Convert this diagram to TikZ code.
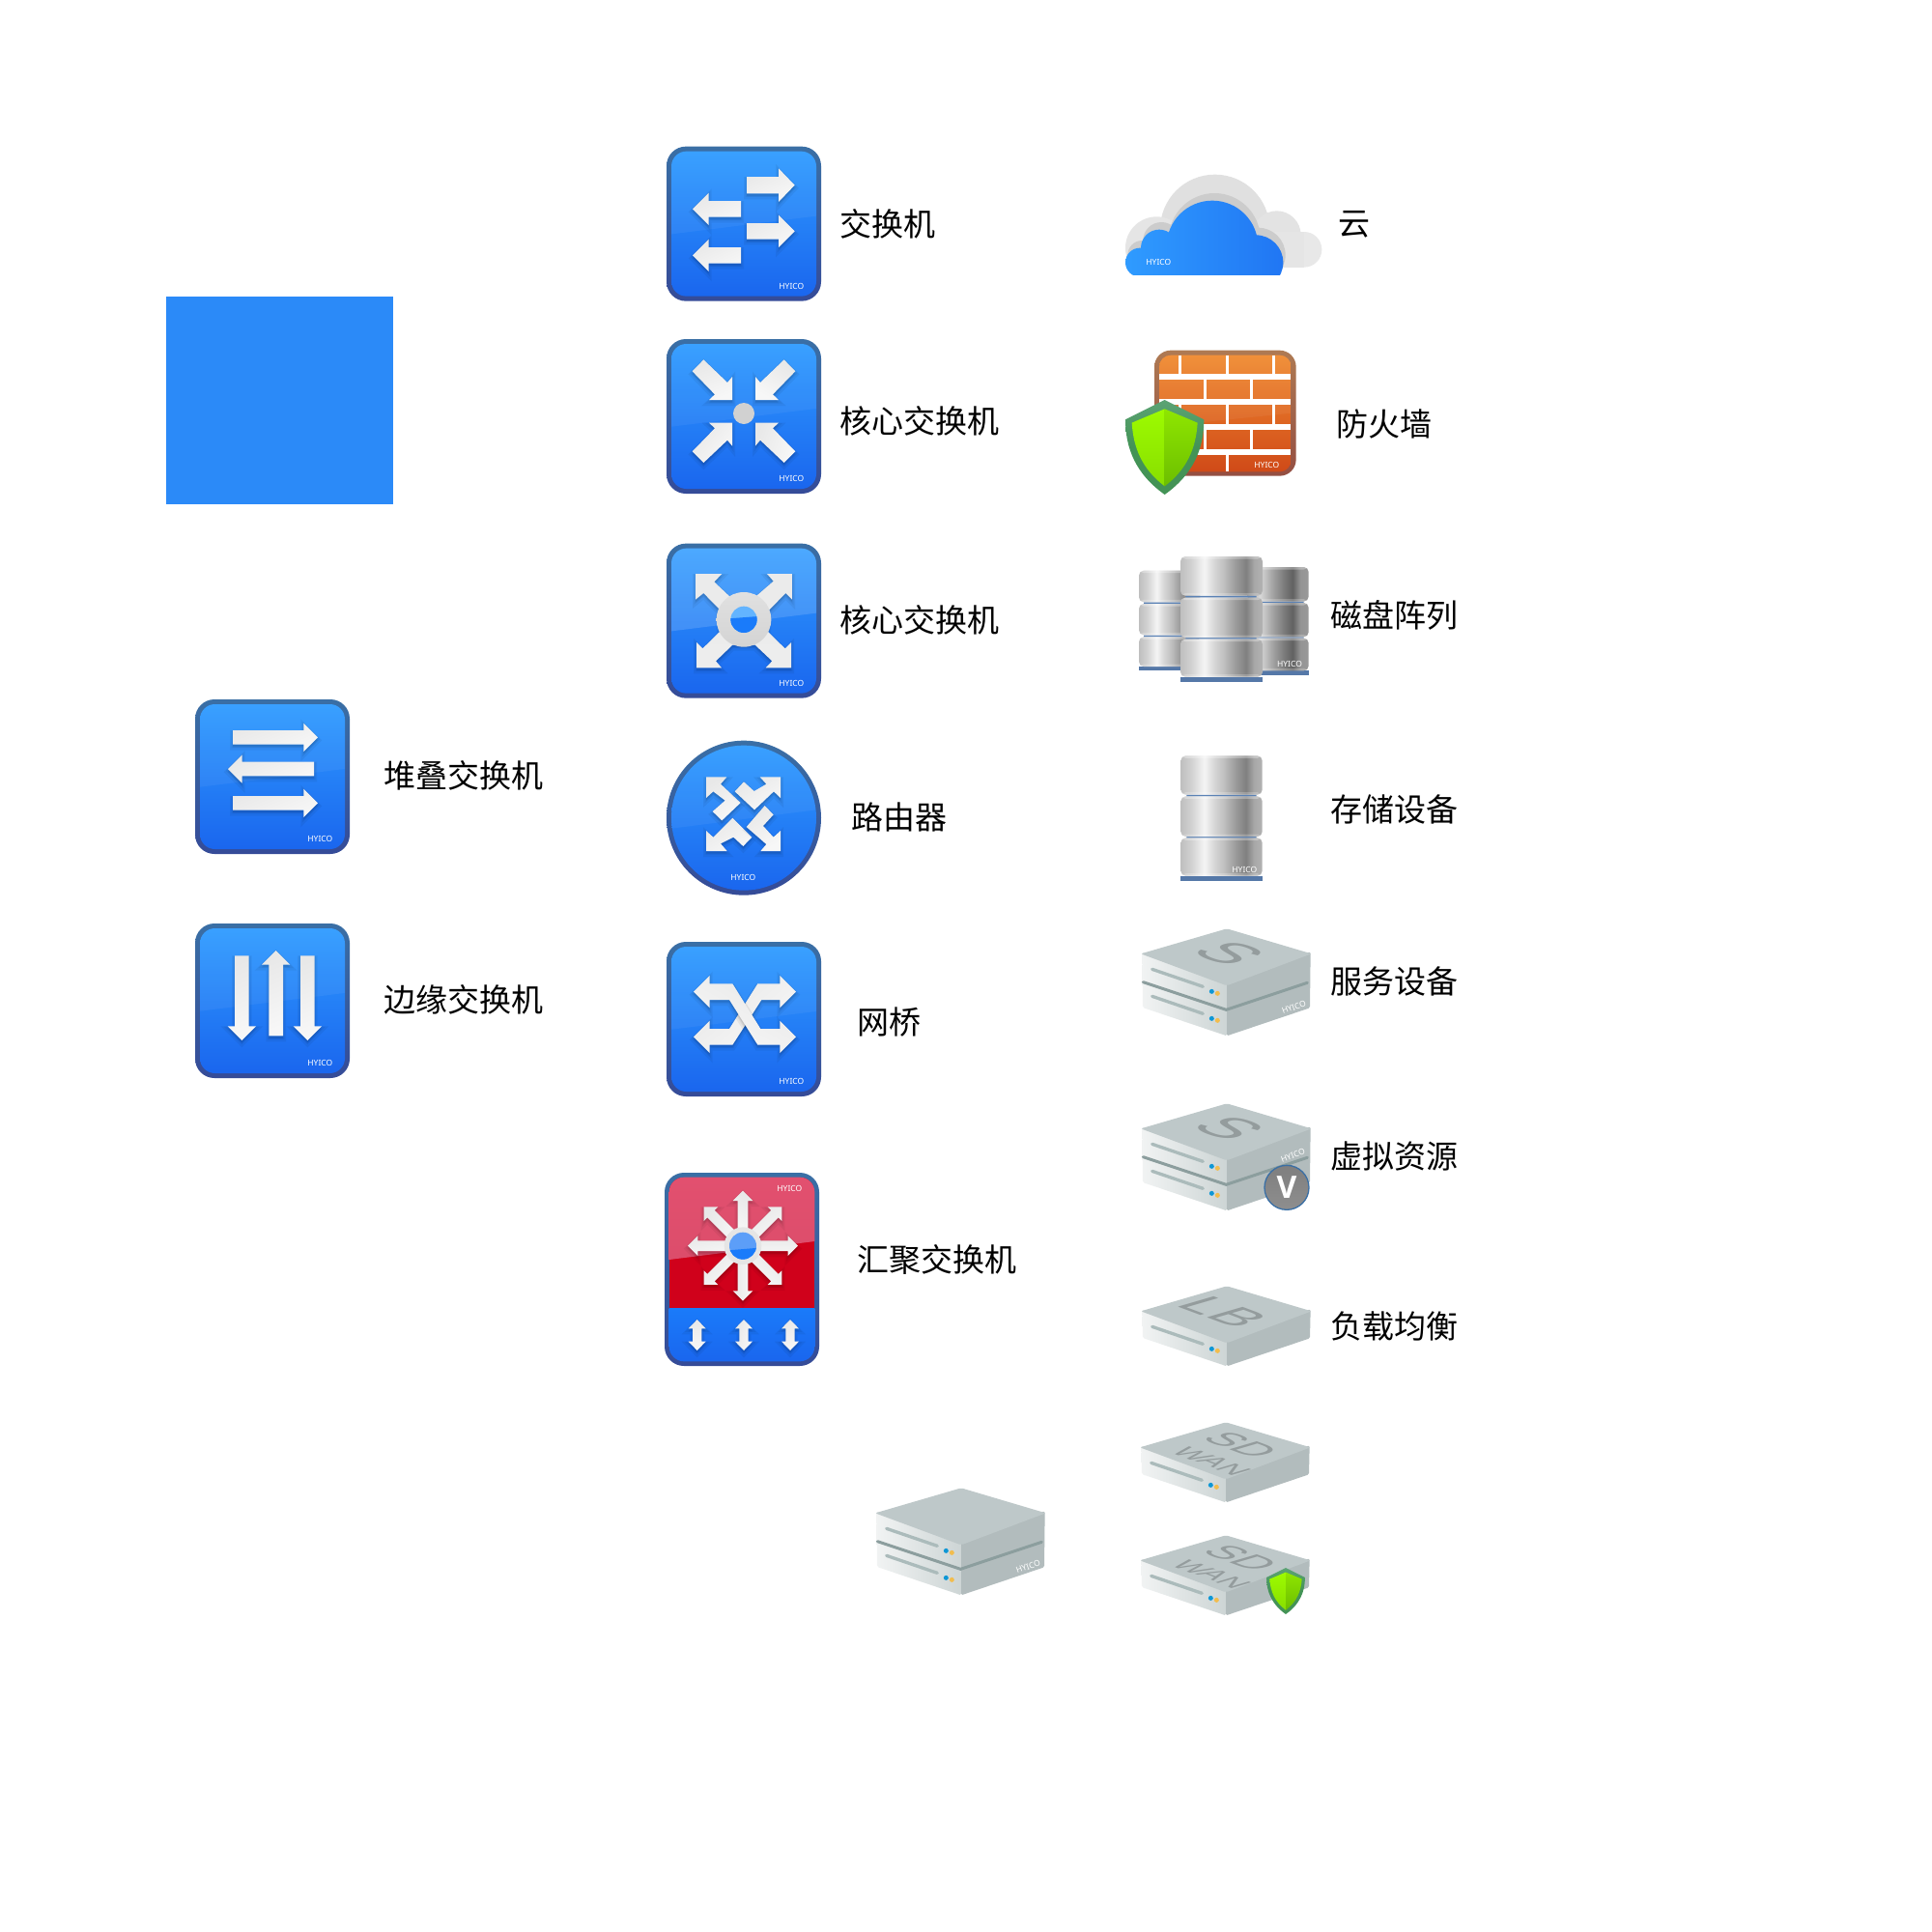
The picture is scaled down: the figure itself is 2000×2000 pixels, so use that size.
\documentclass[tikz,border=0pt]{standalone}
\usepackage{fontspec}
\setmainfont{Noto Sans CJK SC}
\newfontfamily\hyfont{Noto Sans}
\newfontfamily\topfont{Liberation Sans}
\newfontfamily\vfont{Open Sans}
\definecolor{bluetop}{HTML}{2F9BFF}
\definecolor{bluebot}{HTML}{1A66EE}
\definecolor{frametop}{HTML}{3A6FA5}
\definecolor{framebot}{HTML}{354B98}
\definecolor{slatetop}{HTML}{BEC8C9}
\definecolor{slateside}{HTML}{B2BCBD}
\definecolor{cylbar}{HTML}{5578A8}
\definecolor{slotcol}{HTML}{ABBBBB}
\definecolor{sepcol}{HTML}{8C9E9E}
\definecolor{ledblue}{HTML}{0E97D5}
\definecolor{ledyel}{HTML}{F2BD4E}
\definecolor{cylthin}{HTML}{5B82B5}
\definecolor{shieldb}{HTML}{5CA374}
\definecolor{shieldc}{HTML}{439356}
\definecolor{leaflt}{HTML}{9DFB00}
\definecolor{leafld}{HTML}{88DE00}
\definecolor{leafrt}{HTML}{8FE600}
\definecolor{leafrd}{HTML}{6CBE00}
\definecolor{faceleft}{HTML}{F1F3F3}
\definecolor{faceright}{HTML}{CDD5D5}
\definecolor{redmain}{HTML}{D0011B}
\definecolor{pinktop}{HTML}{E2506F}
\definecolor{pinkbot}{HTML}{DC4D6B}
\definecolor{bluemid}{HTML}{1A7BFA}
\definecolor{disc}{HTML}{5C9EF8}
\definecolor{firetop}{HTML}{AE7A53}
\definecolor{firebot}{HTML}{944E42}
\definecolor{bricktop}{HTML}{F08A30}
\definecolor{brickbot}{HTML}{D04A18}
\definecolor{vtop}{HTML}{7F7F7F}
\definecolor{vbot}{HTML}{8E8E8E}
\definecolor{squareblue}{HTML}{2B8AF8}
\pgfdeclarehorizontalshading{cylfront}{100bp}{color(0bp)=(black!25);color(25bp)=(black!25);color(31.5bp)=(black!18);color(39.5bp)=(black!4);color(45.5bp)=(black!16);color(51.5bp)=(black!25);color(59bp)=(black!40);color(65bp)=(black!50);color(70bp)=(black!34);color(75bp)=(black!30);color(100bp)=(black!30)}
\pgfdeclarehorizontalshading{cylback}{100bp}{color(0bp)=(black!35);color(25bp)=(black!35);color(35bp)=(black!15);color(45bp)=(black!35);color(55bp)=(black!52);color(62bp)=(black!62);color(68bp)=(black!42);color(75bp)=(black!40);color(100bp)=(black!40)}
\tikzset{
  zoomat/.style 2 args={shift={(#1,#2)},x=0.33333pt,y=-0.33333pt},
  softshadow/.style={preaction={draw=black,draw opacity=.05,fill=black,fill opacity=.05,line width=6pt,transform canvas={yshift=-3pt}},preaction={draw=black,draw opacity=.05,fill=black,fill opacity=.05,line width=3pt,transform canvas={yshift=-2pt}}},
  silver/.style={softshadow,shading=axis,left color=black!9,middle color=black!21,right color=black!3,shading angle=#1},
  silver/.default=30,
  labeltext/.style={anchor=west,inner sep=0pt,font=\fontsize{33}{36}\selectfont,text=black},
  brand/.style={inner sep=0pt,text=white,font=\hyfont\fontsize{8.5}{9}\selectfont},
  topprint/.style={inner sep=0pt,transform shape,text=black!22!slatetop,align=center,font=\topfont\fontsize{#1}{#1}\selectfont,cm={0.94,-0.35,0.96,0.28,(0,0)}},
  gloss/.style={fill=white,fill opacity=#1},
  gloss/.default=.06,
  cylseg/.style={rounded corners=5pt,shading=#1,path picture={
    \fill[white,opacity=.3] ([yshift=-2.5pt]path picture bounding box.north west) rectangle (path picture bounding box.north east);
    \fill[white,opacity=.22] (path picture bounding box.south west) rectangle ([yshift=2.5pt]path picture bounding box.south east);}},
  slot/.style={draw=slotcol,line width=3.3pt,line cap=round},
  sepband/.style={draw=sepcol,line width=3pt,line cap=round,line join=round},
  led/.style={fill=#1}
}
% frame in zoom units: (x0,y0) is the outer top-left; size 480
\newcommand{\blueframe}[3]{%
  \path[rounded corners=20pt,top color=frametop,bottom color=framebot] (#1,#2) rectangle (#1+480,#2+480);
  \path[rounded corners=15.5pt,top color=bluetop,bottom color=bluebot] (#1+15,#2+15) rectangle (#1+465,#2+465);
  \begin{scope}
    \clip[rounded corners=15.5pt] (#1+15,#2+15) rectangle (#1+465,#2+465);
    \fill[gloss=#3] (#1,#2) -- (#1+480,#2) -- (#1+480,#2+214) -- (#1,#2+274) -- cycle;
  \end{scope}
}
\newcommand{\hyico}[2]{\node[brand] at (#1,#2) {HYICO};}
\newcommand{\harrow}[7][]{% tail, base, tip, yc, shaft half, head half
  \path[silver=#7,#1] (#2,#5-#6) -- (#3,#5-#6) -- (#3,#5-2*#6) -- (#4,#5) -- (#3,#5+2*#6) -- (#3,#5+#6) -- (#2,#5+#6) -- cycle;}
\newcommand{\varrow}[7][]{% tail, base, tip, xc, shaft half, head half
  \path[silver=#7,#1] (#5-#6,#2) -- (#5-#6,#3) -- (#5-2*#6,#3) -- (#5,#4) -- (#5+2*#6,#3) -- (#5+#6,#3) -- (#5+#6,#2) -- cycle;}
\newcommand{\shieldicon}[3]{%
  \begin{scope}[zoomat={#1}{#2},scale=#3]
    \path[top color=shieldb,bottom color=shieldc,middle color=shieldc] (0,0) -- (122,61) .. controls (122,150) and (90,230) .. (0,294) .. controls (-90,230) and (-122,150) .. (-122,61) -- cycle;
    \path[top color=leaflt,bottom color=leafld] (0,28) -- (0,268) .. controls (-70,215) and (-97,150) .. (-102,71) -- cycle;
    \path[top color=leafrt,bottom color=leafrd] (0,28) -- (0,268) .. controls (70,215) and (97,150) .. (102,71) -- cycle;
  \end{scope}}
% server: origin is the top vertex in full pixels; #3 is height; #4 extras
\newcommand{\serverbox}[4]{%
  \begin{scope}[zoomat={#1}{#2}]
    \path[rounded corners=1.5pt,left color=faceleft,right color=faceright] (-263,70) -- (0,150) -- (0,#3+2) -- (-261,#3-86) -- cycle;
    \path[rounded corners=1.5pt,fill=slateside] (0,150) -- (260,70) -- (258,#3-85) -- (0,#3+2) -- cycle;
    \path[rounded corners=2pt,fill=slatetop] (0,-2) -- (263,76) -- (0,175) -- (-267,76) -- cycle;
    \draw[slot] (-232,124) -- (-74,178);
    \fill[led=ledblue] (-47,193) circle (7.5);
    \fill[led=ledyel] (-29,199) circle (7.5);
    #4
  \end{scope}}
\newcommand{\secondunit}{%
    \draw[sepband] (-260,164) -- (-2,250) -- (250,166);
    \draw[slot] (-232,208) -- (-74,262);
    \fill[led=ledblue] (-47,277) circle (7.5);
    \fill[led=ledyel] (-29,283) circle (7.5);}
\newcommand{\sdwan}{SD\\[-3pt]\hspace*{25pt}{\fontsize{31}{38}\selectfont WAN}}
\begin{document}
\begin{tikzpicture}[x=1pt,y=-1pt]
\useasboundingbox (0,0) rectangle (2000,2000);
\fill[white] (0,0) rectangle (2000,2000);

% blue square
\fill[squareblue] (172,307) rectangle (407,522);

% ---- switch
\begin{scope}[zoomat={670}{130}]
\blueframe{60}{65}{.05}
\harrow{309}{408}{458}{185}{26}{25}{20}
\harrow{291}{191}{141}{259}{25}{25}{-30}
\harrow{309}{408}{458}{328}{25}{25}{10}
\harrow{291}{191}{141}{403}{25}{25}{-40}
\hyico{448}{498}
\end{scope}

% ---- core switch 1
\begin{scope}[zoomat={670}{340}]
\blueframe{60}{33}{.05}
\path[silver=20] (140,133)--(175,97)--(249,168)--(264,150)--(264,222)--(192,222)--(210,205)--cycle;
\path[silver=-30] (460,133)--(425,97)--(351,168)--(336,150)--(336,222)--(408,222)--(390,205)--cycle;
\path[silver=50] (140,382)--(175,417)--(249,347)--(264,365)--(264,293)--(192,293)--(210,310)--cycle;
\path[silver=70] (460,382)--(425,417)--(351,347)--(336,365)--(336,293)--(408,293)--(390,310)--cycle;
\fill[black!18] (300,264) circle (33);
\hyico{448}{466}
% ---- core switch 2
\blueframe{60}{668}{.14}
\path[top color=black!8,middle color=black!16,bottom color=black!7,softshadow]
 (150,762)--(232,762)--(208,787)--(262,838)--(340,830)--(392,785)--(372,762)--(450,762)--(450,842)--(430,822)--(378,875)
 --(375,942)--(428,994)--(447,975)--(447,1054)--(368,1054)--(388,1033)--(335,983)--(265,983)--(213,1033)--(231,1054)--(153,1054)--(153,975)--(172,994)--(225,942)--(222,870)--(175,822)--(150,842)--cycle;
\path[top color=black!12,bottom color=black!17] (300,904) circle (85);
\begin{scope}
\clip (300,904) circle (41);
\fill[bluetop!75!white] (200,800) rectangle (400,1000);
\fill[bluemid] (200,905) -- (400,890) -- (400,1000) -- (200,1000) -- cycle;
\end{scope}
\hyico{448}{1101}
\end{scope}

% ---- stack switch / edge switch
\begin{scope}[zoomat={190}{710}]
\blueframe{36}{42}{.05}
\harrow{153}{373}{417}{160}{22}{22}{30}
\harrow{405}{182}{138}{258}{22}{22}{-20}
\harrow{153}{373}{417}{364}{22}{22}{40}
\hyico{424}{474}
\blueframe{36}{738}{.05}
\varrow{838}{1057}{1101}{181}{22}{22}{-60}
\varrow{1087}{866}{822}{287}{22}{22}{70}
\varrow{838}{1057}{1101}{385}{22}{22}{-70}
\hyico{424}{1170}
\end{scope}

% ---- router
\begin{scope}[zoomat={670}{750}]
\path[top color=frametop,bottom color=framebot] (300,290) circle (240);
\path[top color=bluetop,bottom color=bluebot] (300,290) circle (225);
\begin{scope}
\clip (300,290) circle (225);
\fill[gloss=.05] (60,60) -- (540,60) -- (540,263) -- (60,325) -- cycle;
\end{scope}
\path[silver=30] (183,163)--(247,163)--(228,185)--(290,243)--(232,298)--(203,270)--(242,236)--(205,208)--(183,228)--cycle;
\path[silver=30] (414,163)--(414,228)--(393,208)--(333,265)--(272,208)--(300,178)--(332,207)--(370,185)--(350,163)--cycle;
\path[silver=30] (183,393)--(183,330)--(205,350)--(265,290)--(325,350)--(298,378)--(268,350)--(228,370)--(248,393)--cycle;
\path[silver=30] (414,393)--(352,393)--(370,372)--(308,318)--(365,252)--(392,280)--(360,315)--(392,350)--(414,330)--cycle;
\hyico{298}{474}
\end{scope}

% ---- bridge
\begin{scope}[zoomat={670}{960}]
\blueframe{60}{45}{.05}
\path[silver=40] (412,175)--(343,175)--(255,315)--(194,315)--(194,290)--(144,340)--(194,390)--(194,365)--(265,365)--(355,225)--(412,225)--(412,250)--(462,200)--(412,150)--cycle;
\path[silver=-30] (194,175)--(265,175)--(352,315)--(412,315)--(412,290)--(462,340)--(412,390)--(412,365)--(343,365)--(255,225)--(194,225)--(194,250)--(144,200)--(194,150)--cycle;
\hyico{448}{478}
\end{scope}

% ---- aggregation switch
\begin{scope}[zoomat={670}{1200}]
\path[rounded corners=20pt,top color=frametop,bottom color=framebot] (54,42) rectangle (534,642);
\begin{scope}
\clip[rounded corners=15.5pt] (68,56) rectangle (520,628);
\fill[redmain] (68,56) rectangle (520,462);
\path[top color=pinktop,bottom color=pinkbot] (68,56) -- (520,56) -- (520,255) -- (68,312) -- cycle;
\path[top color=bluemid,bottom color=bluebot] (68,462) rectangle (520,628);
\end{scope}
\foreach \a/\g in {0/0,45/30,90/-30,135/60,180/10,225/40,270/90,315/-40}{
  \path[shift={(297,269)},rotate=\a,silver=\g] (30,-16) -- (140,-16) -- (140,-31) -- (171,0) -- (140,31) -- (140,16) -- (30,16) -- cycle;
}
\fill[black!10] (297,269) circle (58);
\fill[disc] (297,269) circle (42);
\begin{scope}
\clip (297,269) circle (42);
\fill[bluemid] (240,284) -- (360,274) -- (360,320) -- (240,320) -- cycle;
\end{scope}
\foreach \xc/\g in {155/0,300/70,444/30}{
  \path[silver=\g] (\xc-14,526) -- (\xc-27,526) -- (\xc,498) -- (\xc+27,526) -- (\xc+14,526) -- (\xc+14,566) -- (\xc+27,566) -- (\xc,594) -- (\xc-27,566) -- (\xc-14,566) -- cycle;
}
\hyico{442}{90}
\end{scope}

% ---- cloud
\begin{scope}[zoomat={1150}{160}]
\begin{scope}
\clip (0,0) rectangle (720,350);
\fill[black!12] (323,232) circle (170);
\fill[black!11] (515,250) circle (75);
\fill[black!9] (600,295) circle (55);
\fill[black!10] (142,290) circle (97);
\fill[black!10] (142,240) rectangle (600,350);
\end{scope}
\begin{scope}
\clip (0,0) rectangle (720,372);
\begin{scope}[shift={(7,-23)}]
\fill[black!20] (315,285) circle (142);
\fill[black!20] (150,290) circle (57);
\fill[black!20] (90,335) circle (45);
\fill[black!20] (450,335) circle (85);
\end{scope}
\begin{scope}
\clip (315,285) circle (142) (150,290) circle (57) (90,335) circle (45) (450,335) circle (85) (90,290) -- (460,290) -- (460,380) -- (90,380) -- cycle;
\shade[left color=bluetop,right color=bluebot!70!bluetop] (45,120) rectangle (540,380);
\end{scope}
\end{scope}
\node[brand] at (148,333) {HYICO};
\end{scope}

% ---- firewall + disk array
\begin{scope}[zoomat={1150}{340}]
\path[rounded corners=17pt,top color=firetop,bottom color=firebot] (135,68) rectangle (575,458);
\begin{scope}
\clip[rounded corners=12pt] (150,83) rectangle (560,445);
\path[top color=bricktop,bottom color=brickbot] (150,83) rectangle (560,445);
\fill[gloss=.05] (150,83) -- (560,83) -- (560,263) -- (150,305) -- cycle;
\draw[white,line width=6pt] (150,151) -- (560,151) (150,229) -- (560,229) (150,307) -- (560,307) (150,385) -- (560,385);
\draw[white,line width=3pt] (214,83)--(214,142) (360,83)--(360,142) (505,83)--(505,142)
  (291,160)--(291,220) (436,160)--(436,220)
  (214,238)--(214,298) (360,238)--(360,298) (505,238)--(505,298)
  (291,316)--(291,376) (436,316)--(436,376)
  (214,394)--(214,445) (360,394)--(360,445);
\end{scope}
\hyico{484}{423}
\end{scope}
\shieldicon{1205.67}{414}{1}

\begin{scope}[zoomat={1150}{340}]
% left stack
\fill[cylbar] (87,1050) rectangle (277,1062);
\fill[cylthin] (102,850) rectangle (262,855) (102,953) rectangle (262,958);
\path[cylseg=cylfront] (87,752) rectangle (277,850);
\path[cylseg=cylfront] (87,855) rectangle (277,952);
\path[cylseg=cylfront] (87,958) rectangle (277,1050);
% right stack
\fill[cylbar] (424,1063) rectangle (614,1077);
\fill[cylthin] (439,848) rectangle (599,852) (439,958) rectangle (599,962);
\path[cylseg=cylback] (424,741) rectangle (614,848);
\path[cylseg=cylback] (424,852) rectangle (614,958);
\path[cylseg=cylback] (424,962) rectangle (614,1063);
\hyico{555}{1041}
% front stack
\fill[cylbar] (216,1082) rectangle (471,1098);
\fill[cylthin] (232,830) rectangle (452,836) (232,960) rectangle (452,965);
\path[cylseg=cylfront] (216,708) rectangle (471,830);
\path[cylseg=cylfront] (216,836) rectangle (471,960);
\path[cylseg=cylfront] (216,965) rectangle (471,1082);
\end{scope}

% ---- storage
\begin{scope}[zoomat={1200}{760}]
\fill[cylbar] (67,440) rectangle (320,456);
\fill[cylthin] (85,188) rectangle (302,194) (85,318) rectangle (302,324);
\path[cylseg=cylfront] (67,67) rectangle (320,188);
\path[cylseg=cylfront] (67,193) rectangle (320,318);
\path[cylseg=cylfront] (67,322) rectangle (320,440);
\hyico{265}{420}
\end{scope}

% ---- servers
\serverbox{1270}{962}{329}{\secondunit
  \node[topprint=66] at (8,74) {S};
  \node[brand,rotate=20] at (208,242) {HYICO};}
\serverbox{1270}{1143}{329}{\secondunit
  \node[topprint=66] at (8,74) {S};
  \node[brand,rotate=20] at (205,159) {HYICO};
  \path[top color=vtop,bottom color=vbot,draw=frametop,line width=1.3pt] (186,259) circle (69);
  \node[inner sep=0pt,text=white,font=\vfont\bfseries\fontsize{32}{32}\selectfont] at (186,259) {V};}
\serverbox{1270}{1332}{245}{
  \node[topprint=56] at (-10,78) {LB};}
\serverbox{1269}{1473}{245}{
  \node[topprint=43] at (-10,85) {\sdwan};}
\serverbox{1269}{1590}{245}{
  \node[topprint=43] at (-10,85) {\sdwan};}
\shieldicon{1331}{1623}{.49}
\serverbox{995}{1541}{329}{\secondunit
  \node[brand,rotate=20] at (208,242) {HYICO};}

% ---- labels
\node[labeltext] (l1) at (869,232) {交换机};
\node[labeltext] (l2) at (869,436) {核心交换机};
\node[labeltext] (l3) at (869,642) {核心交换机};
\node[labeltext] (l4) at (881,846) {路由器};
\node[labeltext] (l5) at (887,1058) {网桥};
\node[labeltext] (l6) at (887,1304) {汇聚交换机};
\node[labeltext] (l7) at (397,803) {堆叠交换机};
\node[labeltext] (l8) at (397,1035) {边缘交换机};
\node[labeltext] (r1) at (1385,232) {云};
\node[labeltext] (r2) at (1383,439) {防火墙};
\node[labeltext] (r3) at (1377,637) {磁盘阵列};
\node[labeltext] (r4) at (1377,838) {存储设备};
\node[labeltext] (r5) at (1377,1016) {服务设备};
\node[labeltext] (r6) at (1377,1197) {虚拟资源};
\node[labeltext] (r7) at (1377,1373) {负载均衡};
\end{tikzpicture}
\end{document}
